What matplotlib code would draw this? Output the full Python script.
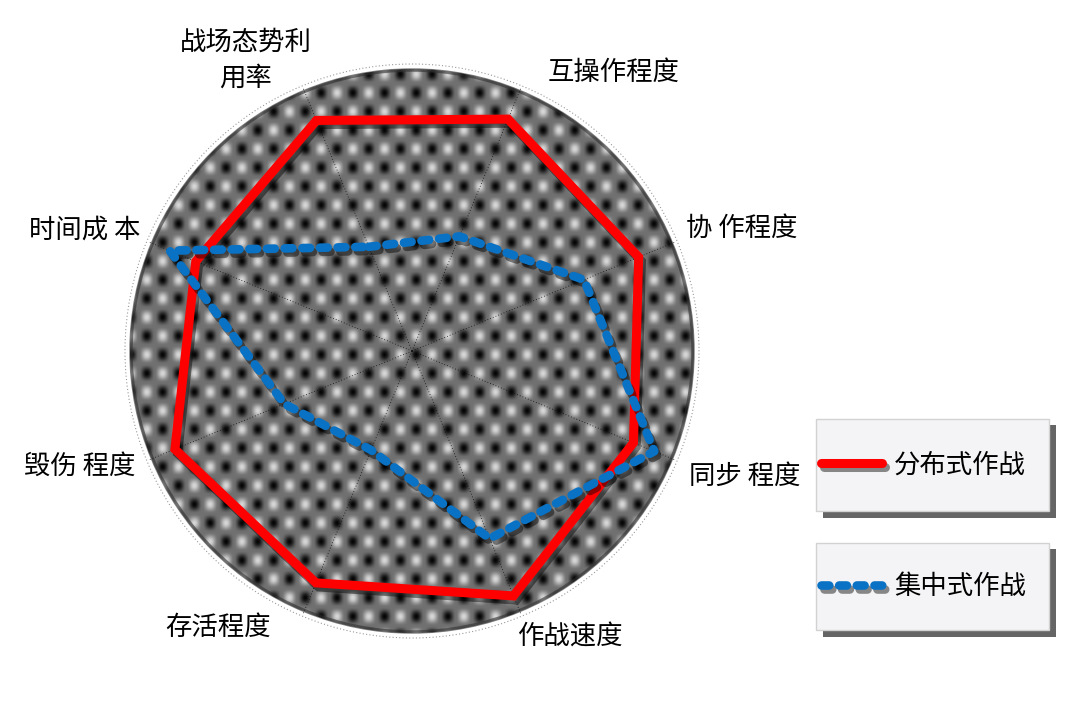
import numpy as np
import matplotlib.pyplot as plt
import matplotlib.patheffects as pe
from matplotlib.patches import Circle, Rectangle
from matplotlib.lines import Line2D

plt.rcParams['font.family'] = ['Noto Sans CJK SC', 'DejaVu Sans']

# data (0..1 scale, clockwise from the upper-left axis)
categories = ['战场态势利用率', '互操作程度', '协作程度', '同步程度',
              '作战速度', '存活程度', '毁伤程度', '时间成本']
axis_labels = ['战场态势利\n用率', '互操作程度', '协 作程度', '同步 程度',
               '作战速度', '存活程度', '毁伤 程度', '时间成 本']
distributed = [0.885, 0.89, 0.87, 0.85, 0.94, 0.89, 0.91, 0.83]
centralized = [0.40, 0.44, 0.66, 0.93, 0.72, 0.38, 0.49, 0.93]
series_names = ['分布式作战', '集中式作战']

W, H = 1080, 702
cx, cy, R = 412, 351, 282

fig = plt.figure(figsize=(W / 100, H / 100), dpi=100)
fig.patch.set_facecolor('white')

# background layer in pixel coordinates (dotted disc + legend boxes)
bg = fig.add_axes([0, 0, 1, 1], zorder=0)
yy, xx = np.mgrid[0:H, 0:W] + 0.5
p = np.cos(2 * np.pi * (xx - 448) / 31.7) * np.cos(2 * np.pi * (yy - 392) / 37.4)
p = np.sign(p) * np.abs(p) ** 1.8
img = 0.44 - np.where(p > 0, 0.42, 0.40) * p
im = bg.imshow(img, cmap='gray', vmin=0, vmax=1, extent=(0, W, H, 0),
               interpolation='bilinear', aspect='auto')
disc = Circle((cx, cy), R, facecolor='none', edgecolor='none')
bg.add_patch(disc)
im.set_clip_path(disc)
bg.add_patch(Circle((cx, cy), R - 1, facecolor='none', edgecolor='#303030',
                    lw=2.5, alpha=0.6))
bg.add_patch(Circle((cx, cy), R + 5, facecolor='none', edgecolor='#9a9a9a',
                    lw=0.8, ls=(0, (1, 2))))
bg.set_xlim(0, W)
bg.set_ylim(H, 0)
bg.axis('off')

# radar
ax = fig.add_axes([(cx - 285) / W, (H - cy - 285) / H, 570 / W, 570 / H],
                  projection='polar', zorder=1)
ax.set_facecolor('none')
ax.set_theta_offset(np.deg2rad(112.5))
ax.set_theta_direction(-1)
ax.set_ylim(0, 285 / R)

angles = np.arange(len(categories)) * 2 * np.pi / len(categories)
ax.set_thetagrids(np.degrees(angles), labels=[''] * len(categories))
ax.set_yticks([])
ax.xaxis.grid(True, color='#111111', linestyle=(0, (1, 2.5)), linewidth=0.6)
ax.spines['polar'].set_visible(False)

shadow = [pe.SimpleLineShadow(offset=(2, -3), shadow_color='black', alpha=0.45),
          pe.Normal()]
styles = [dict(color='#ff0000', lw=6.5, solid_joinstyle='miter', solid_capstyle='round'),
          dict(color='#0a72c4', lw=6.2, linestyle=(0, (0.9, 1.15)),
               dash_capstyle='round', dash_joinstyle='round')]

th = np.append(angles, angles[0])
for vals, st in zip([distributed, centralized], styles):
    ax.plot(th, list(vals) + [vals[0]], path_effects=shadow, **st)

# axis labels
label_pos = [(246, 60), (614, 72), (742, 228), (745, 476),
             (570, 637), (218, 627), (80, 466), (85, 230)]
for lab, (x, y) in zip(axis_labels, label_pos):
    fig.text(x / W, 1 - y / H, lab, ha='center', va='center', fontsize=19,
             linespacing=1.4, color='black')

# legend boxes
boxes = [(419, 511), (543, 630)]
for name, st, (y0, y1) in zip(series_names, styles, boxes):
    bg.add_patch(Rectangle((823, y0 + 6), 233, y1 - y0 + 1, facecolor='#4a4a4a',
                           edgecolor='none', alpha=0.85, zorder=2))
    bg.add_patch(Rectangle((816, y0), 233, y1 - y0, facecolor='#f4f4f6',
                           edgecolor='#d2d2d2', lw=1, zorder=3))
    ym = (y0 + y1) / 2 - 2
    bg.add_line(Line2D([821, 882], [ym, ym], zorder=4, path_effects=shadow, **st))
    bg.text(894, ym + 2, name, ha='left', va='center', fontsize=19, zorder=5)

fig.savefig('out.png', dpi=100)
